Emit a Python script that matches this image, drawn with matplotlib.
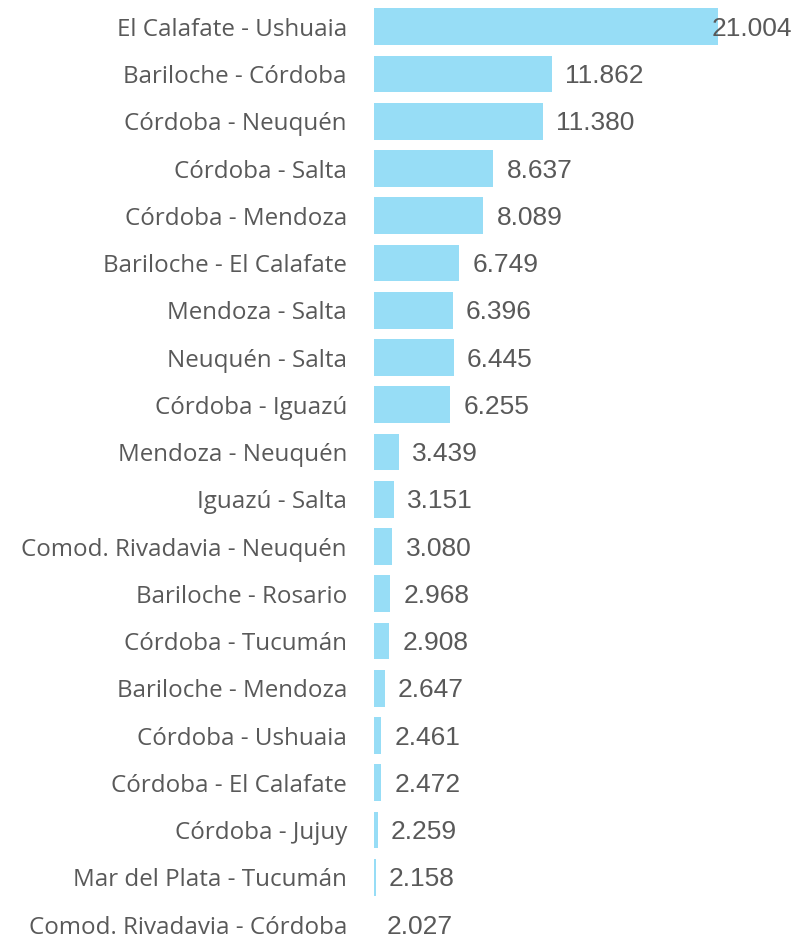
import matplotlib
matplotlib.use("Agg")
import matplotlib.pyplot as plt

routes = [
    "El Calafate - Ushuaia", "Bariloche - Córdoba", "Córdoba - Neuquén",
    "Córdoba - Salta", "Córdoba - Mendoza", "Bariloche - El Calafate",
    "Mendoza - Salta", "Neuquén - Salta", "Córdoba - Iguazú",
    "Mendoza - Neuquén", "Iguazú - Salta", "Comod. Rivadavia - Neuquén",
    "Bariloche - Rosario", "Córdoba - Tucumán", "Bariloche - Mendoza",
    "Córdoba - Ushuaia", "Córdoba - El Calafate", "Córdoba - Jujuy",
    "Mar del Plata - Tucumán", "Comod. Rivadavia - Córdoba",
]
values = [21.004, 11.862, 11.380, 8.637, 8.089, 6.749, 6.396, 6.445, 6.255,
          3.439, 3.151, 3.080, 2.968, 2.908, 2.647, 2.461, 2.472, 2.259,
          2.158, 2.027]
labels = [f"{v:.3f}" for v in values]

bar_color = "#97ddf6"
text_color = "#595959"

W, H = 793, 938
row = 47.25
fig = plt.figure(figsize=(W / 100, H / 100), dpi=100)
top = 26.8 - row / 2
ax_h = row * len(values)
ax = fig.add_axes([374 / W, (H - top - ax_h) / H, (W - 374) / W, ax_h / H])

y = list(range(len(values)))
ax.barh(y, values, height=0.78, color=bar_color, edgecolor="none")
ax.set_xlim(2.062, 2.062 + (W - 374) / 18.16)
ax.set_ylim(len(values) - 0.5, -0.5)

ax.set_yticks(y)
ax.set_yticklabels(routes, fontsize=17.4, color=text_color, family="Open Sans")
ax.tick_params(axis="y", length=0, pad=19.5)
ax.set_xticks([])
for s in ax.spines.values():
    s.set_visible(False)

texts = []
for yi, v, lab in zip(y, values, labels):
    t = ax.annotate(lab, (v, yi), xytext=(9.5, -1.5), textcoords="offset points",
                    ha="left", va="center", fontsize=19, color=text_color,
                    family="Liberation Sans", annotation_clip=False)
    texts.append(t)

# keep value labels inside the figure
fig.canvas.draw()
r = fig.canvas.get_renderer()
for t in texts:
    bb = t.get_window_extent(r)
    if bb.x1 > W - 1:
        dx = (bb.x1 - (W - 1)) * 72 / 100
        t.xyann = (t.xyann[0] - dx, t.xyann[1])

fig.savefig("out.png", dpi=100)
